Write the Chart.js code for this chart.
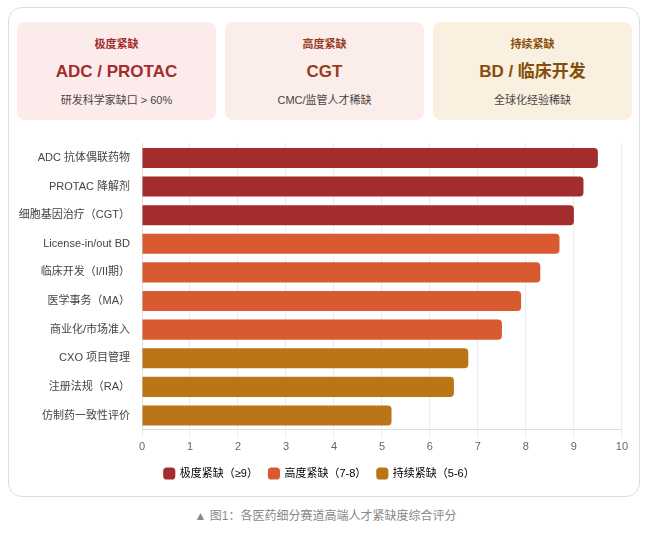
<!DOCTYPE html>
<html><head><meta charset="utf-8">
<script src="https://cdn.jsdelivr.net/npm/chart.js@4.4.1/dist/chart.umd.min.js"></script>
<style>
html,body{margin:0;padding:0;background:#fff;width:651px;height:537px;overflow:hidden;font-family:"Liberation Sans","Noto Sans CJK SC",sans-serif;}
#box{position:absolute;left:8px;top:7px;width:630px;height:488px;border:1px solid #dedede;border-radius:14px;background:#fff;}
.card{position:absolute;top:22px;height:98px;width:199px;border-radius:8px;text-align:center;}
.card .t{position:absolute;left:0;right:0;top:14px;font-size:11px;font-weight:bold;line-height:16px;}
.card .b{position:absolute;left:0;right:0;top:39px;font-size:17px;font-weight:bold;line-height:22px;}
.card .s{position:absolute;left:0;right:0;top:70px;font-size:11px;line-height:16px;color:#4a4444;}
#wrap{position:absolute;left:17px;top:125px;width:614px;height:364px;}
#cap{position:absolute;left:0;right:0;top:508px;text-align:center;font-size:12px;color:#888;line-height:17px;}
</style></head>
<body>
<div id="box"></div>
<div class="card" style="left:17px;background:#FCEBEB;color:#A32D2D"><div class="t">极度紧缺</div><div class="b">ADC / PROTAC</div><div class="s">研发科学家缺口 &gt; 60%</div></div>
<div class="card" style="left:225px;background:#FAEDEA;color:#993C1D"><div class="t">高度紧缺</div><div class="b">CGT</div><div class="s">CMC/监管人才稀缺</div></div>
<div class="card" style="left:433px;background:#FAF0DF;color:#854F0B"><div class="t">持续紧缺</div><div class="b">BD / 临床开发</div><div class="s">全球化经验稀缺</div></div>
<div id="wrap"><canvas id="c"></canvas></div>
<div id="cap">▲ 图1：各医药细分赛道高端人才紧缺度综合评分</div>
<script>
const categories = ['ADC 抗体偶联药物','PROTAC 降解剂','细胞基因治疗（CGT）','License-in/out BD','临床开发（I/II期）','医学事务（MA）','商业化/市场准入','CXO 项目管理','注册法规（RA）','仿制药一致性评价'];
const scores = [9.5, 9.2, 9.0, 8.7, 8.3, 7.9, 7.5, 6.8, 6.5, 5.2];
const tiers = [0, 0, 0, 1, 1, 1, 1, 2, 2, 2];
const tierLabels = ['极度紧缺（≥9）','高度紧缺（7-8）','持续紧缺（5-6）'];
const tierColors = ['#A32D2D','#D85A30','#BA7517'];
const xMin = 0, xMax = 10, xStep = 1;

const FONT = '"Liberation Sans","Noto Sans CJK SC",sans-serif';
new Chart(document.getElementById('c'), {
  type: 'bar',
  data: {
    labels: categories,
    datasets: [{
      data: scores,
      backgroundColor: tiers.map(t => tierColors[t]),
      borderRadius: 4,
      barPercentage: 0.7,
      categoryPercentage: 1.0
    }]
  },
  options: {
    indexAxis: 'y',
    responsive: true,
    maintainAspectRatio: false,
    animation: false,
    layout: { padding: { top: 6, right: 9, left: 0, bottom: 0 } },
    scales: {
      x: {
        min: xMin, max: xMax,
        ticks: { stepSize: xStep, color: '#666', font: { size: 11, family: FONT } },
        grid: { color: '#ececec', tickLength: 8 },
        border: { color: '#dddddd' }
      },
      y: {
        afterFit: s => { s.width = 125; },
        ticks: { color: '#444', padding: 12, font: { size: 11, family: FONT } },
        grid: { display: false, drawTicks: false },
        border: { display: true, color: '#dddddd' }
      }
    },
    plugins: {
      tooltip: { enabled: false },
      legend: {
        position: 'bottom',
        labels: {
          boxWidth: 10, boxHeight: 10, padding: 11, color: '#444',
          font: { size: 11, family: FONT },
          generateLabels: () => tierLabels.map((l, i) => ({
            text: l, fillStyle: tierColors[i], strokeStyle: tierColors[i], lineWidth: 0,
            pointStyle: 'rectRounded', hidden: false, datasetIndex: 0
          })),
          usePointStyle: true, pointStyle: 'rectRounded'
        }
      }
    }
  }
});
</script>
</body></html>
